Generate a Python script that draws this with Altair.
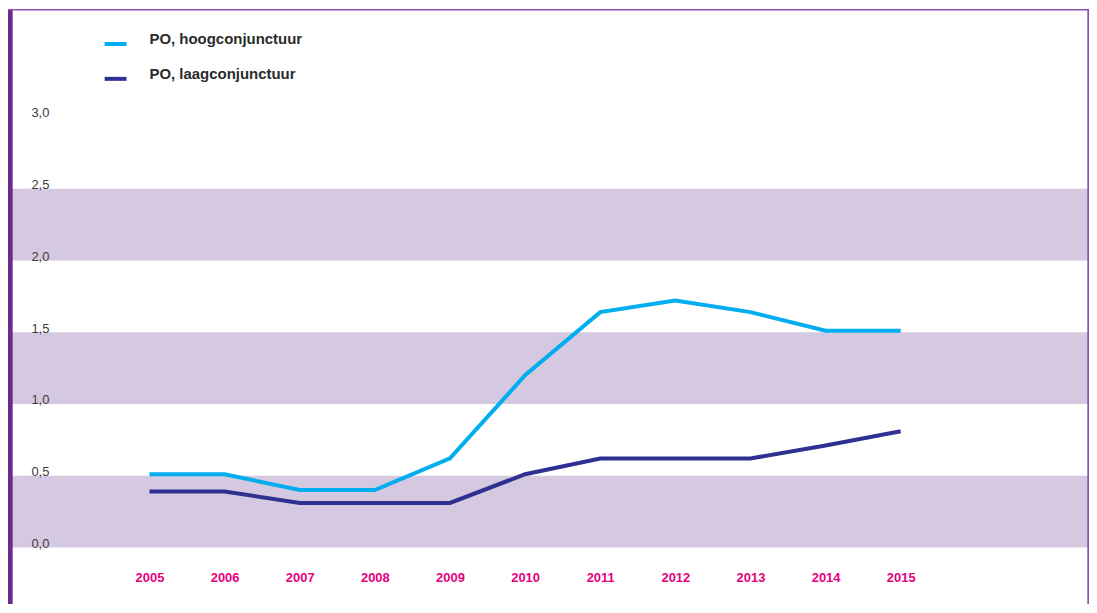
import altair as alt
import pandas as pd

# ---- data ----
years = [2005, 2006, 2007, 2008, 2009, 2010, 2011, 2012, 2013, 2014, 2015]
hoog = [0.51, 0.51, 0.40, 0.40, 0.62, 1.20, 1.64, 1.72, 1.64, 1.51, 1.51]
laag = [0.39, 0.39, 0.31, 0.31, 0.31, 0.51, 0.62, 0.62, 0.62, 0.71, 0.81]
series_names = ["PO, hoogconjunctuur", "PO, laagconjunctuur"]
series_colors = ["#00AEEF", "#2E3192"]
band_start = [0.0, 1.0, 2.0]
band_end = [0.5, 1.5, 2.5]
y_ticks = [0.0, 0.5, 1.0, 1.5, 2.0, 2.5, 3.0]

W, H = 1085, 597
FONT = "Liberation Sans"

lines_df = pd.DataFrame({
    "year": years + years,
    "value": hoog + laag,
    "series": [series_names[0]] * len(years) + [series_names[1]] * len(years),
})
bands_df = pd.DataFrame({"start": band_start, "end": band_end})

x_scale = alt.Scale(domain=[2003.1167, 2017.5066], nice=False, zero=False)
y_scale = alt.Scale(domain=[-0.39375, 3.752], nice=False, zero=False)

y_axis = alt.Axis(values=y_ticks, orient="left", domain=False, ticks=False,
                  tickSize=0, grid=False, labelPadding=-23, labelAlign="left",
                  labelBaseline="alphabetic", labelFont=FONT, labelFontSize=13,
                  labelColor="#3C3C3C", labelOverlap=False, labelFlush=False,
                  labelExpr="replace(format(datum.value, '.1f'), '.', ',')",
                  title=None, zindex=1)

bands = alt.Chart(bands_df).mark_rect(color="#D5C8E1").encode(
    x=alt.value(0),
    x2=alt.value(1084),
    y=alt.Y("start:Q", scale=y_scale, axis=y_axis),
    y2="end:Q",
)

lines = alt.Chart(lines_df).mark_line(strokeWidth=4).encode(
    x=alt.X("year:Q", scale=x_scale,
            axis=alt.Axis(values=years, format="d", orient="bottom", offset=-26,
                          domain=False, ticks=False, tickSize=0, grid=False,
                          labelPadding=0, labelBaseline="middle", labelFlush=False,
                          labelFont=FONT, labelFontSize=13, labelFontWeight="bold",
                          labelColor="#E6007E", labelOverlap=False, title=None)),
    y=alt.Y("value:Q", scale=y_scale, axis=y_axis),
    color=alt.Color("series:N",
                    scale=alt.Scale(domain=series_names, range=series_colors),
                    sort=series_names,
                    legend=alt.Legend(orient="none", legendX=95, legendY=22, title=None,
                                      symbolType="stroke", symbolSize=484,
                                      symbolStrokeWidth=4, labelFont=FONT,
                                      labelFontSize=15, labelFontWeight="bold",
                                      labelColor="#2B2B2B", labelOffset=21,
                                      labelBaseline="alphabetic", rowPadding=14,
                                      padding=0)),
    detail="series:N",
)

one = alt.Data(values=[{}])
left_bar = alt.Chart(one).mark_rect(color="#6B2C91").encode(
    x=alt.value(0), x2=alt.value(4.7), y=alt.value(0), y2=alt.value(H))
top_line = alt.Chart(one).mark_rule(color="#8E50B0", strokeWidth=1.5).encode(
    x=alt.value(0), x2=alt.value(1085), y=alt.value(0.6))
right_line = alt.Chart(one).mark_rule(color="#8E50B0", strokeWidth=2).encode(
    x=alt.value(1084.3), y=alt.value(0), y2=alt.value(H))

chart = alt.layer(bands, lines, left_bar, top_line, right_line).properties(
    width=W, height=H, padding=0,
    autosize=alt.AutoSizeParams(type="none"),
    background="white",
).configure_view(stroke=None)

chart.save("out.html", embed_options={"renderer": "svg", "actions": False})
